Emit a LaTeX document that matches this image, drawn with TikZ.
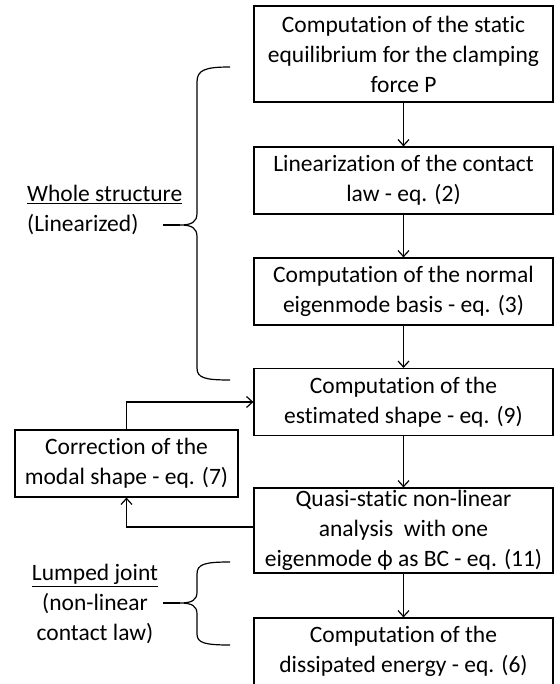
\documentclass[tikz,border=0pt]{standalone}
\usepackage{fontspec}
\setmainfont{Carlito}[Ligatures=NoCommon]
\usetikzlibrary{arrows.meta}
\begin{document}
\begin{tikzpicture}[x=1pt,y=-1pt,
  txt/.style={font=\fontsize{23.5}{30}\selectfont},
  box/.style={draw, line width=1.2pt, align=center, inner sep=0pt, txt, minimum width=299pt, minimum height=67pt},
  arr/.style={-{Straight Barb[length=6pt,width=11pt]}, line width=1.2pt},
  brace/.style={line width=1.2pt}]
\useasboundingbox (0,0) rectangle (559,684);
\node[box, minimum height=96pt] (b1) at (403.5,54) {Computation of the static\\equilibrium for the clamping\\force P};
\node[box] (b2) at (403.5,180.5) {Linearization of the contact\\law - eq. (2)};
\node[box] (b3) at (403.5,291.5) {Computation of the normal\\eigenmode basis - eq. (3)};
\node[box] (b4) at (403.5,402) {Computation of the\\estimated shape - eq. (9)};
\node[box, minimum height=85pt] (b5) at (403.5,530.5) {Quasi-static non-linear\\analysis\ \ with one\\eigenmode ϕ as BC - eq. (11)};
\node[box] (b6) at (403.5,651.5) {Computation of the\\dissipated energy - eq. (6)};
\node[box, minimum width=223pt] (corr) at (126.5,463.5) {Correction of the\\modal shape - eq. (7)};
\draw[arr] (b1.south) -- (b2.north);
\draw[arr] (b2.south) -- (b3.north);
\draw[arr] (b3.south) -- (b4.north);
\draw[arr] (b4.south) -- (b5.north);
\draw[arr] (b5.south) -- (b6.north);
\draw[arr] (corr.north) |- (b4.west);
\draw[arr] ([yshift=3.5pt]b5.west) -| (corr.south);
% brace 1
\coordinate (t1) at (230,67);
\coordinate (m1) at (163,225);
\coordinate (e1) at (230,380);
\draw[brace] (t1) .. controls (205,67) and (197,70) .. (197,82) -- (197,213)
  .. controls (197,222) and (192,225) .. (180,225) .. controls (192,225) and (197,228) .. (197,237)
  -- (197,368) .. controls (197,378) and (205,380) .. (e1);
\draw[brace] (m1) -- (180,225);
% brace 2
\coordinate (t2) at (230,562);
\coordinate (m2) at (163,603);
\coordinate (e2) at (230,645);
\draw[brace] (t2) .. controls (205,562) and (197,564) .. (197,574) -- (197,592)
  .. controls (197,600) and (192,603) .. (180,603) .. controls (192,603) and (197,606) .. (197,614)
  -- (197,634) .. controls (197,643) and (205,645) .. (e2);
\draw[brace] (m2) -- (180,603);
\node[txt, align=left, anchor=west, inner sep=0pt] (lab1) at (27,210) {\underline{Whole structure}\\(Linearized)};
\node[txt, align=center, inner sep=0pt] (lab2) at (95,604) {\underline{Lumped joint}\\(non-linear\\contact law)};
\end{tikzpicture}
\end{document}
